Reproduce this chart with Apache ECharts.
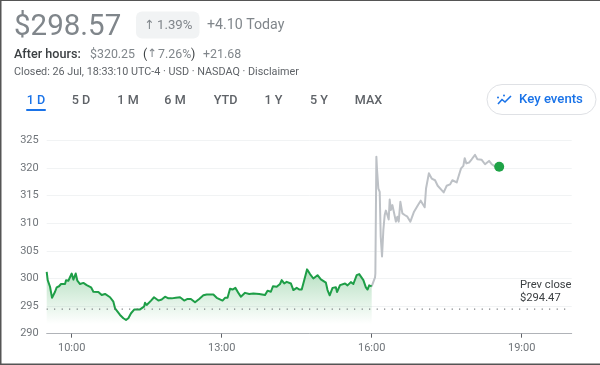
<!DOCTYPE html>
<html>
<head>
<meta charset="utf-8">
<style>html,body{margin:0;padding:0;background:#fff}#c{width:600px;height:365px}</style>
<script src="https://cdn.jsdelivr.net/npm/echarts@6/dist/echarts.min.js"></script>
</head>
<body>
<div id="c"></div>
<script>
// Minutes after midnight and price in dollars
var regularMinutes = [570,571.2,574,576.4,578,580,582,584.8,587.2,592,593.2,596,600,602,604.8,606.8,610,614,618,623.2,626,632,636,640,646,650,652,658,662,665.2,668,671.2,675.2,682,686.8,688,690,695.2,698.8,704,708,712,716,720,725,730,735,739,743,748,753,758,762,770,774,781,784,787,790,793,796.4,800.4,803,808,813,818,825,832,835,839,841.6,846,850,852,855,858,863,866,870,873,876,879,882.4,886,890,895,899,905,907,909.6,913,917,918.4,922,928,931,935,938,942,945,950,953,955,957,958.4,960];
var regularPrices = [301.2,299.7,298.5,296.5,296.4,297.6,298.4,298.6,299,299,299.7,299.6,300.9,299.8,300.9,299.6,299,299.2,298.8,298.4,297.6,297.55,297,297.2,296.6,295.8,294.6,293.4,292.8,292.5,292.8,293.7,294.4,294.4,294.9,295.6,295.2,296,296.6,296,296.2,296.7,296.4,296.4,296.5,296.6,296,296.3,296.3,295.7,296.3,296.95,297.1,297.1,296.5,296,296.5,296.5,298.15,298,298.3,297.3,296.7,297.4,297.2,297.3,297.2,297,297.8,297.6,298.6,298.5,299,299.7,299.1,299.4,299.1,297.9,298.3,298,298,299.7,301.65,300.8,300,300.6,299.85,299.25,297.9,296.95,298.3,298.4,297.55,298.8,299.1,298.75,299.35,299,300.6,300.8,299.7,298.4,298,298.75,298.6,298.57];
var afterMinutes = [960,964,964.4,965.6,966.4,968,969.6,970.8,972.4,974,975.6,977,978.8,980.4,981.6,983,984.8,986.8,989,990.8,992.4,994.4,996.8,999.6,1002.8,1006.4,1010.8,1012.4,1015.6,1018.8,1020.8,1023.6,1025.2,1026.4,1028.6,1032,1036,1039.2,1041.6,1046.4,1050,1054,1056.8,1062,1064,1067.2,1070,1071.6,1073.6,1076.8,1080,1084,1086.8,1092,1096,1100.8,1104,1108,1113];
var afterPrices = [298.57,300.2,300.9,322.07,319.7,316.3,315.7,307.6,304,308.8,311.5,312.3,311.5,310.7,314.3,312.4,313.3,311.9,310.3,311.2,310.3,313.9,311.8,311.5,311.2,310.3,312.1,311.9,313.3,314.1,313.9,312.9,316.3,316.6,319.05,318.1,317.8,316.8,317.05,315.6,316.8,317.05,317.8,317.4,318.4,319.95,320.4,321.8,320.85,321,321.6,322.4,321.6,321.5,320.7,321.3,320.7,320.3,320.25];
var lastPoint = [1113, 320.25];
var prevClose = 294.47;
var dayStart = 570, dayEnd = 1200;
var xTickMinutes = [600, 780, 960, 1140];
var xTickLabels = ['10:00', '13:00', '16:00', '19:00'];
var rangeTabs = ['1 D', '5 D', '1 M', '6 M', 'YTD', '1 Y', '5 Y', 'MAX'];

function zip(a, b) { return a.map(function (v, i) { return [v, b[i]]; }); }
var FF = 'Roboto, sans-serif';
var GRAY = '#80868b', DARK = '#3c4043', BLUE = '#1a73e8';
function t(x, y, text, size, fill, weight, align, family) {
  return { type: 'text', silent: true, x: x, y: y, style: {
    text: text, fontFamily: family || FF, fontSize: size, fill: fill, fontWeight: weight || 400,
    align: align || 'left', verticalAlign: 'middle' } };
}
var tabX = [36, 81, 128, 175, 225.5, 273.5, 319, 368.5];
var g = [
  { type: 'rect', silent: true, shape: { x: 136, y: 11.5, width: 63.5, height: 27, r: 6 }, style: { fill: '#f1f3f4' } },
  t(14, 27.5, '$298.57', 29.5, GRAY),
  t(144, 25.5, '↑', 12.5, GRAY, 400, 'left', 'DejaVu Sans'),
  t(157, 25.5, '1.39%', 13.2, GRAY),
  t(207, 25.5, '+4.10 Today', 14.2, GRAY),
  t(14, 54.5, 'After hours:', 12.6, DARK, 500),
  t(90, 54.5, '$320.25', 12.4, GRAY),
  t(143, 54.5, '(', 12.4, DARK),
  t(147.5, 54.5, '↑', 11.5, GRAY, 400, 'left', 'DejaVu Sans'),
  t(158, 54.5, '7.26%', 12.4, GRAY),
  t(191, 54.5, ')', 12.4, DARK),
  t(203, 54.5, '+21.68', 12.4, GRAY),
  t(14, 72, 'Closed: 26 Jul, 18:33:10 UTC-4 · USD · NASDAQ · Disclaimer', 10.8, '#5f6368'),
  { type: 'rect', silent: true, shape: { x: 26, y: 109, width: 20, height: 2, r: 1 }, style: { fill: BLUE } },
  { type: 'rect', silent: true, shape: { x: 487, y: 84.5, width: 109, height: 30, r: 15 }, style: { fill: '#fff', stroke: '#dfe1e5', lineWidth: 1 } },
  t(519, 100, 'Key events', 13.2, BLUE, 500),
  { type: 'polyline', silent: true, shape: { points: [[498, 104], [502, 99.5], [505, 102], [511, 96]] }, style: { stroke: BLUE, lineWidth: 1.6, fill: null } },
  { type: 'circle', silent: true, shape: { cx: 498, cy: 97.5, r: 1 }, style: { fill: BLUE } },
  { type: 'circle', silent: true, shape: { cx: 504, cy: 95.5, r: 1 }, style: { fill: BLUE } },
  t(520, 285, 'Prev close', 11.2, DARK),
  t(520, 298.5, '$294.47', 11.2, DARK),
  { type: 'rect', silent: true, shape: { x: 0, y: 0, width: 600, height: 1 }, style: { fill: '#555' } },
  { type: 'rect', silent: true, shape: { x: 0, y: 0, width: 1.5, height: 365 }, style: { fill: '#555' } },
  { type: 'rect', silent: true, shape: { x: 0, y: 363.5, width: 600, height: 1.5 }, style: { fill: '#555' } }
];
rangeTabs.forEach(function (label, i) {
  g.push(t(tabX[i], 101, label, 12.6, i === 0 ? BLUE : '#5f6368', 500, 'center'));
});

var chart = echarts.init(document.getElementById('c'));
chart.setOption({
  animation: false,
  backgroundColor: '#fff',
  textStyle: { fontFamily: FF },
  grid: { left: 46.7, right: 28.3, top: 140.5, bottom: 31.3 },
  xAxis: {
    type: 'value', min: dayStart, max: dayEnd,
    axisLine: { show: true, lineStyle: { color: '#b0b3b8', width: 1 } },
    axisTick: { show: true, customValues: xTickMinutes, length: 4, lineStyle: { color: '#5f6368', width: 1 } },
    axisLabel: {
      customValues: xTickMinutes, color: '#70757a', fontSize: 11, margin: 9, fontFamily: FF,
      formatter: function (v) { return xTickLabels[xTickMinutes.indexOf(v)]; }
    },
    splitLine: { show: false }
  },
  yAxis: {
    type: 'value', min: 290, max: 325, interval: 5,
    axisLine: { show: false }, axisTick: { show: false },
    axisLabel: { color: '#70757a', fontSize: 11, margin: 8, fontFamily: FF },
    splitLine: { show: true, lineStyle: { color: '#f1f3f4', width: 1 } }
  },
  series: [
    { name: 'After hours', type: 'line', data: zip(afterMinutes, afterPrices), showSymbol: false, silent: true, z: 3,
      lineStyle: { color: '#bdc1c6', width: 2, join: 'round' } },
    { name: 'Regular hours', type: 'line', data: zip(regularMinutes, regularPrices), showSymbol: false, silent: true, z: 4,
      lineStyle: { color: '#1e9e47', width: 2, join: 'round' },
      areaStyle: { color: { type: 'linear', x: 0, y: 0, x2: 0, y2: 1, colorStops: [
        { offset: 0, color: 'rgba(52,168,83,0.36)' },
        { offset: 0.85, color: 'rgba(52,168,83,0)' },
        { offset: 1, color: 'rgba(52,168,83,0)' } ] }, opacity: 1 } },
    { name: 'Prev close', type: 'line', data: [[dayStart, prevClose], [dayEnd, prevClose]], showSymbol: false, silent: true, z: 5,
      lineStyle: { color: '#5f6368', width: 1.2, type: [1, 6.5] } },
    { name: 'Last', type: 'scatter', data: [lastPoint], symbolSize: 10, silent: true, z: 6, itemStyle: { color: '#1fa347', opacity: 1 } }
  ],
  graphic: { elements: g }
});
</script>
</body>
</html>
